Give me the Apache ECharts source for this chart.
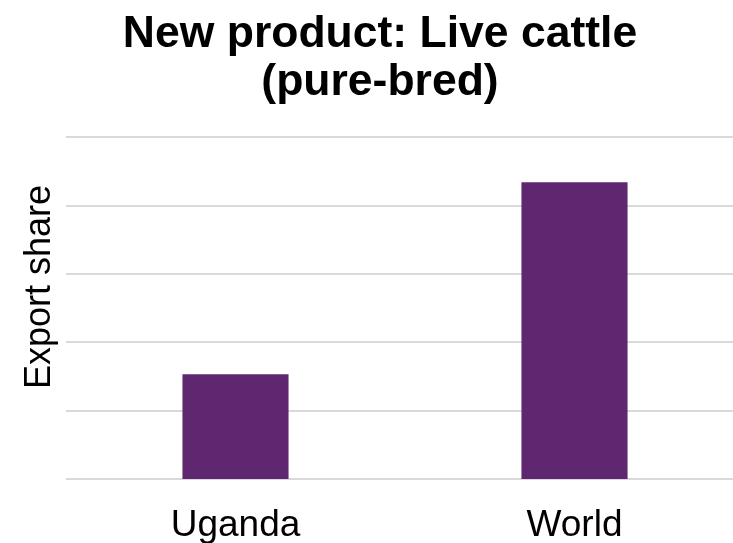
<!DOCTYPE html>
<html lang="en">
<head>
  <meta charset="UTF-8">
  <title>New product: Live cattle</title>
  <script src="https://cdn.jsdelivr.net/npm/echarts@6/dist/echarts.min.js"></script>
  <style>
    html, body { margin: 0; padding: 0; background: #fff; }
    #chart { width: 733px; height: 543px; }
  </style>
</head>
<body>
  <div id="chart"></div>
  <script>
    const categories = ['Uganda', 'World'];
    const exportShare = [1.53, 4.34];

    const chart = echarts.init(document.getElementById('chart'));
    const font = 'Liberation Sans, Arial, sans-serif';

    chart.setOption({
      animation: false,
      title: {
        text: 'New product: Live cattle\n(pure-bred)',
        left: 375,
        top: 6,
        textAlign: 'center',
        textStyle: { fontFamily: font, fontSize: 44.5, fontWeight: 'bold', color: '#000', lineHeight: 48 }
      },
      grid: { left: 66, width: 678, top: 137, bottom: 64, outerBoundsMode: 'none' },
      xAxis: {
        type: 'category',
        data: categories,
        axisLine: { show: false },
        axisTick: { show: false },
        axisLabel: { fontFamily: font, fontSize: 37, color: '#000', margin: 28 }
      },
      yAxis: {
        type: 'value',
        min: 0,
        max: 5,
        interval: 1,
        name: 'Export share',
        nameLocation: 'middle',
        nameGap: 8,
        nameTextStyle: { fontFamily: font, fontSize: 36, color: '#000', padding: [0, 0, 0, 42] },
        axisLabel: { show: false },
        axisLine: { show: false },
        axisTick: { show: false },
        splitLine: { lineStyle: { color: '#d9d9d9', width: 2 } }
      },
      series: [{
        type: 'bar',
        data: exportShare,
        barWidth: '31.3%',
        itemStyle: { color: '#5f2770' }
      }]
    });
  </script>
</body>
</html>
